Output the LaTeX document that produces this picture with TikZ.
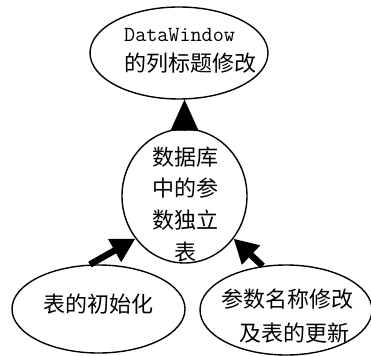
\documentclass[tikz,border=0pt]{standalone}
\usepackage{fontspec}
\newfontfamily\cjk{Noto Sans CJK SC}
\usetikzlibrary{shapes.geometric,arrows.meta}
\begin{document}
\begin{tikzpicture}[x=1pt,y=-1pt,
  oval/.style={ellipse,draw,line width=1.4pt,inner sep=0pt},
  cjktext/.style={inner sep=0pt,font=\cjk\fontsize{22}{26}\selectfont},
  monotext/.style={inner sep=0pt,font=\ttfamily\fontsize{21.5}{24}\selectfont},
  bigarrow/.style={line width=6.5pt,-{Triangle[length=24pt,width=25pt]}},
  toparrow/.style={line width=0.6pt,-{Triangle[length=31pt,width=28pt]}}]
\useasboundingbox (0,0) rectangle (371,355);
% shapes
\node[oval,minimum width=178pt,minimum height=92pt] (t) at (179,53) {};
\node[oval,minimum width=125pt,minimum height=134pt] (c) at (184.5,196) {};
\node[oval,minimum width=173pt,minimum height=88pt] (l) at (98.5,309) {};
\node[oval,minimum width=172pt,minimum height=90pt] (r) at (286,310) {};
% texts
\node[monotext,anchor=west] (t1) at (124,35) {DataWindow};
\node[cjktext,anchor=west] (t2) at (124,63) {的列标题修改};
\node[cjktext] (c1) at (185,157) {数据库};
\node[cjktext] (c2) at (185,188) {中的参};
\node[cjktext] (c3) at (185,220) {数独立};
\node[cjktext] (c4) at (185,252) {表};
\node[cjktext] (l1) at (98.5,304) {表的初始化};
\node[cjktext,anchor=west] (r1) at (221,299) {参数名称修改};
\node[cjktext,anchor=west] (r2) at (239,333) {及表的更新};
% connectors
\draw[toparrow] (c.north) -- (t.south -| c.north);
\draw[bigarrow] (l.101) -- (c.221);
\draw[bigarrow] (r.118) -- (c.-41);
\end{tikzpicture}
\end{document}
